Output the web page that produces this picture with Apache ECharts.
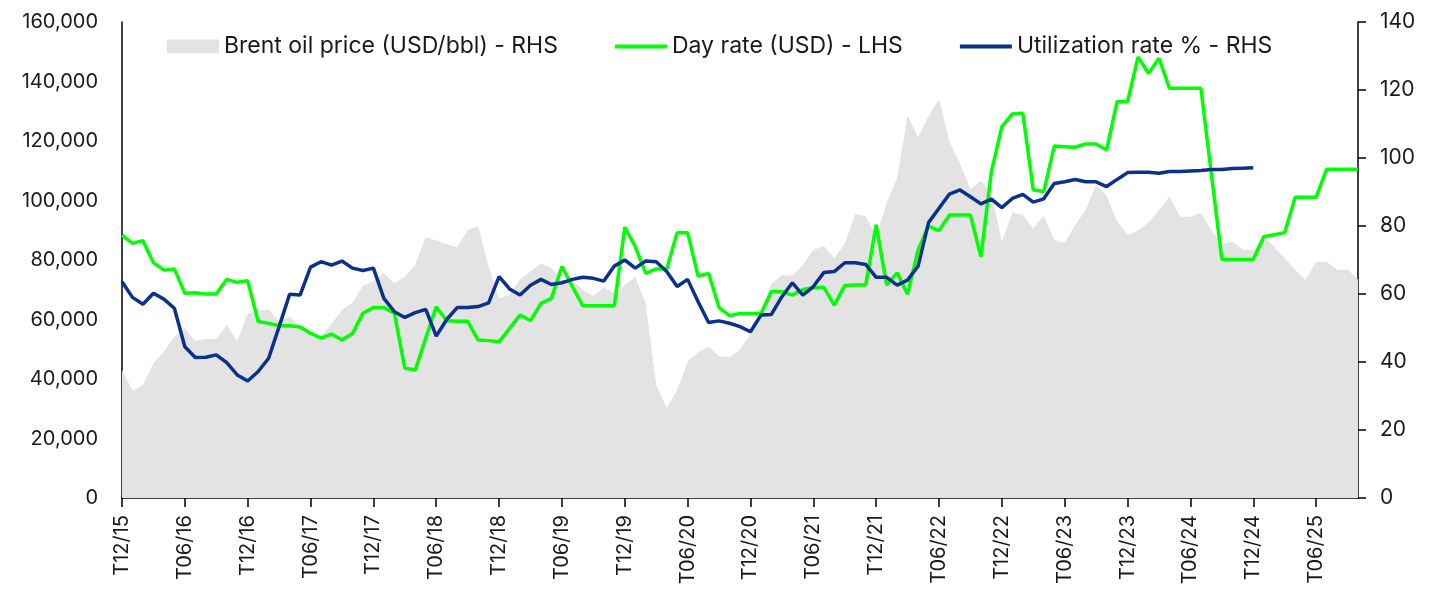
<!DOCTYPE html>
<html>
<head>
<meta charset="utf-8">
<script src="https://cdn.jsdelivr.net/npm/echarts@6/dist/echarts.min.js"></script>
<style>
  html, body { margin: 0; padding: 0; background: #ffffff; }
  #chart { width: 1437px; height: 597px; }
</style>
</head>
<body>
<div id="chart"></div>
<script>
const categories = [
  'T12/15',
  'T01/16','T02/16','T03/16','T04/16','T05/16','T06/16','T07/16','T08/16','T09/16','T10/16','T11/16','T12/16',
  'T01/17','T02/17','T03/17','T04/17','T05/17','T06/17','T07/17','T08/17','T09/17','T10/17','T11/17','T12/17',
  'T01/18','T02/18','T03/18','T04/18','T05/18','T06/18','T07/18','T08/18','T09/18','T10/18','T11/18','T12/18',
  'T01/19','T02/19','T03/19','T04/19','T05/19','T06/19','T07/19','T08/19','T09/19','T10/19','T11/19','T12/19',
  'T01/20','T02/20','T03/20','T04/20','T05/20','T06/20','T07/20','T08/20','T09/20','T10/20','T11/20','T12/20',
  'T01/21','T02/21','T03/21','T04/21','T05/21','T06/21','T07/21','T08/21','T09/21','T10/21','T11/21','T12/21',
  'T01/22','T02/22','T03/22','T04/22','T05/22','T06/22','T07/22','T08/22','T09/22','T10/22','T11/22','T12/22',
  'T01/23','T02/23','T03/23','T04/23','T05/23','T06/23','T07/23','T08/23','T09/23','T10/23','T11/23','T12/23',
  'T01/24','T02/24','T03/24','T04/24','T05/24','T06/24','T07/24','T08/24','T09/24','T10/24','T11/24','T12/24',
  'T01/25','T02/25','T03/25','T04/25','T05/25','T06/25','T07/25','T08/25','T09/25','T10/25'
];

// Day rate (USD) - left axis
const dayRate = [
  88400,
  85600, 86500, 79100, 76600, 77000, 68800, 69000, 68600, 68600, 73500, 72500, 73000,
  59300, 58700, 57900, 57900, 57500, 55400, 53700, 55100, 53100, 55300, 62100, 64000,
  64000, 62100, 43600, 43000, 53800, 64300, 59600, 59400, 59400, 53100, 52900, 52500,
  57000, 61500, 59600, 65400, 67100, 77800, 71000, 64600, 64600, 64600, 64600, 91000,
  84500, 75500, 77000, 77000, 89200, 89200, 74600, 75500, 64000, 61300, 62000, 62000,
  62000, 69400, 69400, 68200, 70100, 70700, 70800, 64800, 71400, 71600, 71600, 91800,
  71600, 75700, 68500, 83400, 91400, 89900, 95100, 95100, 95100, 81100, 109700, 124800,
  129100, 129300, 103500, 103000, 118300, 118100, 117900, 119000, 119000, 117000, 133200, 133200,
  148300, 142700, 147800, 137700, 137700, 137700, 137700, 109000, 80200, 80200, 80200, 80200,
  87800, 88500, 89200, 101100, 101100, 101100, 110500, 110500, 110500, 110500
];

// Utilization rate % - right axis (ends T12/24)
const utilization = [
  63.6,
  59.0, 57.0, 60.2, 58.5, 55.8, 44.5, 41.3, 41.4, 42.1, 39.8, 36.2, 34.4,
  37.2, 41.1, 50.4, 59.9, 59.7, 67.9, 69.5, 68.5, 69.7, 67.6, 66.9, 67.6,
  58.7, 54.8, 53.1, 54.5, 55.5, 47.6, 52.5, 56.0, 56.0, 56.3, 57.4, 65.1,
  61.5, 59.7, 62.6, 64.3, 62.8, 63.3, 64.3, 64.9, 64.6, 63.8, 68.2, 70.0,
  67.6, 69.7, 69.5, 66.6, 62.2, 64.3, 57.7, 51.6, 52.1, 51.4, 50.4, 48.9,
  53.8, 54.0, 59.2, 63.3, 59.7, 62.2, 66.3, 66.6, 69.2, 69.2, 68.7, 64.9,
  64.9, 62.6, 64.1, 68.2, 81.0, 85.2, 89.4, 90.6, 88.6, 86.5, 87.9, 85.4,
  88.1, 89.3, 87.0, 88.0, 92.5, 93.0, 93.7, 93.0, 93.0, 91.6, 93.7, 95.7,
  95.8, 95.8, 95.5, 96.0, 96.0, 96.2, 96.3, 96.6, 96.6, 96.9, 97.0, 97.1,
  null, null, null, null, null, null, null, null, null, null
];

// Brent oil price (USD/bbl) - right axis
const brent = [
  37.6,
  31.6, 33.2, 39.6, 43.0, 47.4, 49.9, 46.2, 46.8, 46.8, 50.9, 46.0, 54.3,
  55.1, 55.5, 51.9, 53.3, 50.6, 48.2, 47.9, 51.2, 55.3, 57.4, 62.4, 63.6,
  66.1, 63.1, 65.1, 68.5, 76.7, 75.7, 74.7, 73.7, 78.8, 80.0, 67.9, 58.7,
  59.7, 64.3, 66.6, 69.0, 67.6, 64.1, 64.1, 61.2, 59.4, 62.0, 60.2, 62.6,
  65.1, 57.3, 33.2, 26.4, 31.8, 40.1, 42.8, 44.5, 41.6, 41.4, 43.7, 48.2,
  55.0, 62.9, 65.6, 65.3, 68.5, 72.9, 74.1, 70.5, 74.7, 83.5, 82.9, 76.9,
  86.8, 94.0, 112.4, 106.1, 112.2, 117.3, 104.8, 98.4, 90.8, 93.3, 89.6, 75.4,
  84.0, 83.2, 79.3, 83.0, 75.9, 75.1, 80.3, 84.7, 92.1, 88.8, 81.3, 77.4,
  78.6, 81.0, 84.7, 88.6, 82.7, 82.7, 83.9, 78.8, 74.7, 75.4, 73.1, 72.9,
  76.9, 73.9, 70.5, 67.1, 64.1, 69.5, 69.5, 67.1, 67.2, 64.3
];

const leftTicks = { min: 0, max: 160000, interval: 20000 };
const rightTicks = { min: 0, max: 140, interval: 20 };

const FONT = 'Inter';
const TXT = '#1a1a1a';
const LINE_ICON = 'path://M0,0H52V4H0Z';

const chart = echarts.init(document.getElementById('chart'), null, { renderer: 'canvas' });

chart.setOption({
  animation: false,
  backgroundColor: '#ffffff',
  textStyle: { fontFamily: FONT, color: TXT },
  grid: { left: 122, right: 79, top: 22, bottom: 99, containLabel: false },
  legend: {
    left: 162,
    top: 30,
    itemWidth: 52,
    itemHeight: 14,
    itemGap: 57,
    symbolKeepAspect: true,
    textStyle: { fontFamily: FONT, fontSize: 23, color: TXT },
    data: [
      { name: 'Brent oil price (USD/bbl) - RHS', icon: 'rect', itemStyle: { color: '#e3e3e3' } },
      { name: 'Day rate (USD) - LHS', icon: LINE_ICON, itemStyle: { color: '#00ff00' } },
      { name: 'Utilization rate % - RHS', icon: LINE_ICON, itemStyle: { color: '#0a318c' } }
    ]
  },
  xAxis: {
    type: 'category',
    data: categories,
    boundaryGap: false,
    axisLine: { show: true, lineStyle: { color: '#000', width: 1.5 } },
    axisTick: { show: true, interval: 5, length: 9, lineStyle: { color: '#000', width: 1.5 } },
    axisLabel: {
      interval: 5, rotate: 90, margin: 17,
      fontFamily: FONT, fontSize: 20, color: TXT
    },
    splitLine: { show: false }
  },
  yAxis: [
    {
      type: 'value',
      position: 'left',
      min: leftTicks.min, max: leftTicks.max, interval: leftTicks.interval,
      axisLine: { show: true, lineStyle: { color: '#000', width: 1.5 } },
      axisTick: { show: false },
      splitLine: { show: false },
      axisLabel: {
        margin: 24, fontFamily: FONT, fontSize: 20, color: TXT,
        formatter: v => v.toLocaleString('en-US')
      }
    },
    {
      type: 'value',
      position: 'right',
      min: rightTicks.min, max: rightTicks.max, interval: rightTicks.interval,
      axisLine: { show: true, lineStyle: { color: '#000', width: 1.5 } },
      axisTick: { show: true, length: 8, lineStyle: { color: '#000', width: 1.5 } },
      splitLine: { show: false },
      axisLabel: { margin: 22, fontFamily: FONT, fontSize: 21, color: TXT }
    }
  ],
  series: [
    {
      name: 'Brent oil price (USD/bbl) - RHS',
      type: 'line',
      yAxisIndex: 1,
      data: brent,
      symbol: 'none',
      lineStyle: { width: 0, color: '#e3e3e3' },
      itemStyle: { color: '#e3e3e3' },
      areaStyle: { color: '#e3e3e3', opacity: 1 },
      z: 1
    },
    {
      name: 'Day rate (USD) - LHS',
      type: 'line',
      yAxisIndex: 0,
      data: dayRate,
      symbol: 'none',
      lineStyle: { width: 3.5, color: '#00ff00' },
      itemStyle: { color: '#00ff00' },
      z: 2
    },
    {
      name: 'Utilization rate % - RHS',
      type: 'line',
      yAxisIndex: 1,
      data: utilization,
      symbol: 'none',
      connectNulls: false,
      lineStyle: { width: 3.5, color: '#0a318c' },
      itemStyle: { color: '#0a318c' },
      z: 3
    }
  ]
});
</script>
</body>
</html>
